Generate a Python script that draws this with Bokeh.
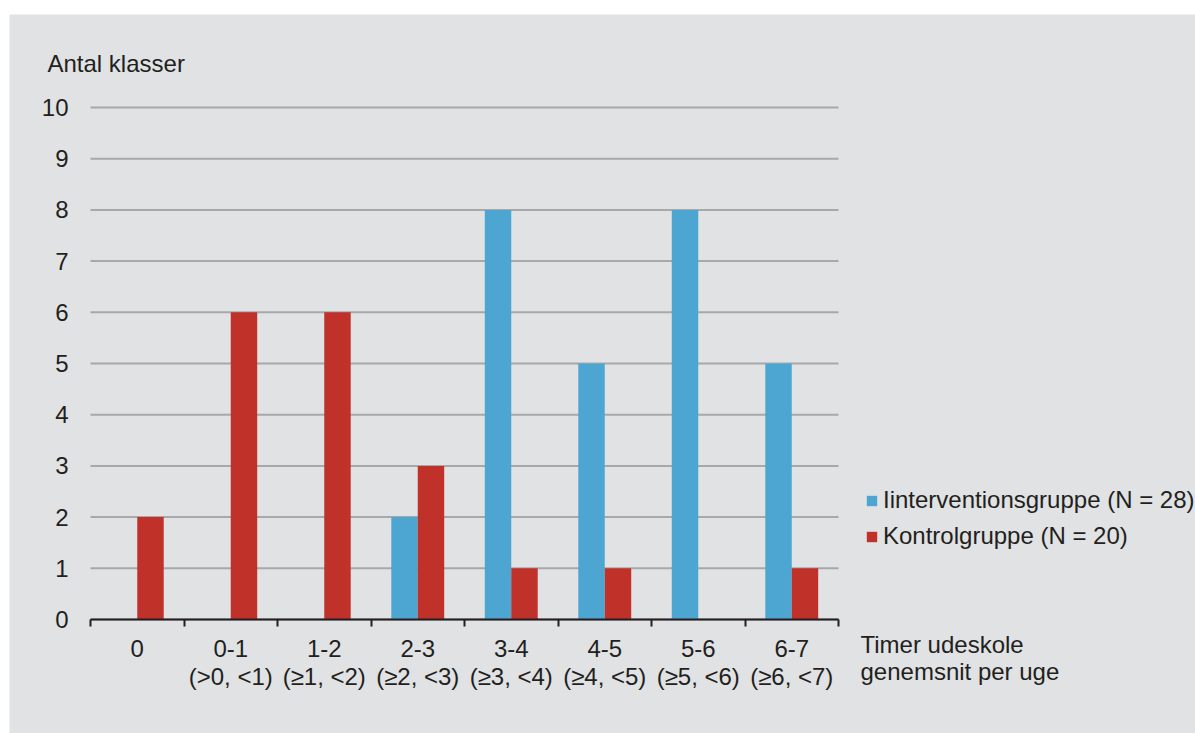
from bokeh.plotting import figure
from bokeh.models import (Range1d, FixedTicker, Label, LabelSet, ColumnDataSource,
                          Legend, LegendItem)
from bokeh.core.properties import value
from bokeh.embed import file_html
from bokeh.resources import INLINE

# ---- data ----
categories = ["0", "0-1", "1-2", "2-3", "3-4", "4-5", "5-6", "6-7"]
sublabels = ["", "(>0, <1)", "(\u22651, <2)", "(\u22652, <3)", "(\u22653, <4)",
             "(\u22654, <5)", "(\u22655, <6)", "(\u22656, <7)"]
intervention = [0, 0, 0, 2, 8, 5, 8, 5]
kontrol = [2, 6, 6, 3, 1, 1, 0, 1]
y_ticks = [0, 1, 2, 3, 4, 5, 6, 7, 8, 9, 10]
series_names = ["Iinterventionsgruppe (N = 28)", "Kontrolgruppe (N = 20)"]
y_title = "Antal klasser"
x_title = ["Timer udeskole", "genemsnit per uge"]

BG = "#e1e2e4"
BLUE = "#4da6d1"
RED = "#c0312a"
GRID = "#a7a8aa"
TXT = "#231f20"
FONT = "Liberation Sans"
FS = "24px"

# ---- layout (pixels) ----
W, H = 1186, 719          # figure size (page offset 9, 14)
OX, OY = 9, 14
X0_PAGE, Y0_PAGE = 90, 619  # page position of data (0, 0)
PXX, PXY = 93.5, 51.2       # pixels per data unit
BASE_FIX = 9.5              # Label baseline correction (px)


def dx(page_x):
    return (page_x - X0_PAGE) / PXX


def dy(page_y):
    return (Y0_PAGE - page_y) / PXY


def dyb(page_baseline):
    return dy(page_baseline - BASE_FIX)


n = len(categories)
idx = list(range(n))
bw = 0.283
src = ColumnDataSource(dict(
    xb=[i + 0.5 - bw / 2 for i in idx],
    xr=[i + 0.5 + bw / 2 for i in idx],
    xc=[i + 0.5 for i in idx],
    inter=intervention, kon=kontrol,
    cat=categories, sub=sublabels,
    y1=[dy(656.5)] * n, y2=[dy(684)] * n,
))

p = figure(width=W, height=H,
           x_range=Range1d(dx(OX), dx(OX + W)),
           y_range=Range1d(dy(OY + H), dy(OY)),
           output_backend="svg", toolbar_location=None,
           background_fill_color=BG, border_fill_color=BG,
           min_border=0)
p.margin = (OY, 0, 0, OX)
p.outline_line_color = None
p.grid.visible = False

# grid lines
p.segment(x0=[0] * len(y_ticks), x1=[n] * len(y_ticks), y0=y_ticks, y1=y_ticks,
          line_color=GRID, line_width=2)

rb = p.vbar(x="xb", top="inter", width=bw, bottom=0, source=src,
            fill_color=BLUE, line_color=None)
rr = p.vbar(x="xr", top="kon", width=bw, bottom=0, source=src,
            fill_color=RED, line_color=None)

# x axis
xa = p.xaxis[0]
xa.fixed_location = 0
xa.bounds = (0, n)
xa.ticker = FixedTicker(ticks=list(range(0, n + 1)))
xa.major_label_overrides = {i: "" for i in range(0, n + 1)}
xa.axis_line_color = TXT
xa.axis_line_width = 2
xa.major_tick_line_color = TXT
xa.major_tick_line_width = 2
xa.major_tick_in = 0
xa.major_tick_out = 7
xa.minor_tick_line_color = None
xa.major_label_text_font_size = "1px"

# y axis
ya = p.yaxis[0]
ya.fixed_location = 0
ya.ticker = FixedTicker(ticks=y_ticks)
ya.axis_line_color = None
ya.major_tick_line_color = None
ya.minor_tick_line_color = None
ya.major_tick_in = 0
ya.major_tick_out = 0
ya.major_label_standoff = 22
ya.major_label_text_font = FONT
ya.major_label_text_font_size = FS
ya.major_label_text_color = TXT

# category labels
for col, ycol in (("cat", "y1"), ("sub", "y2")):
    p.add_layout(LabelSet(x="xc", y=ycol, text=col, source=src,
                          text_align="center", text_baseline="alphabetic",
                          text_font=value(FONT), text_font_size=value(FS),
                          text_color=TXT))

p.add_layout(Label(x=dx(47), y=dyb(72), text=y_title,
                   text_align="left", text_baseline="alphabetic",
                   text_font=FONT, text_font_size=FS, text_color=TXT))
for t, yy in zip(x_title, (653, 680)):
    p.add_layout(Label(x=dx(860), y=dyb(yy), text=t,
                       text_align="left", text_baseline="alphabetic",
                       text_font=FONT, text_font_size=FS, text_color=TXT))

legend = Legend(items=[LegendItem(label=series_names[0], renderers=[rb]),
                       LegendItem(label=series_names[1], renderers=[rr])],
                location=(865 - OX, OY + H - 554))
legend.background_fill_alpha = 0
legend.border_line_color = None
legend.padding = 0
legend.margin = 0
legend.spacing = 0
legend.label_height = 36
legend.glyph_height = 13
legend.glyph_width = 13
legend.label_standoff = 5
legend.label_text_font = FONT
legend.label_text_font_size = FS
legend.label_text_color = TXT
p.add_layout(legend, "center")

open("out.html", "w").write(file_html(p, INLINE))
